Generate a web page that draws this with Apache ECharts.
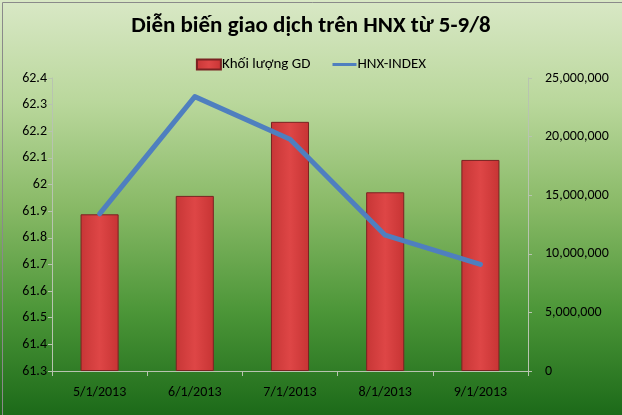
<!DOCTYPE html>
<html>
<head>
<meta charset="utf-8">
<script src="https://cdn.jsdelivr.net/npm/echarts@6/dist/echarts.min.js"></script>
<style>
html,body{margin:0;padding:0;background:#fff;}
#c{width:622px;height:415px;}
</style>
</head>
<body>
<div id="c"></div>
<script>
const categories = ['5/1/2013','6/1/2013','7/1/2013','8/1/2013','9/1/2013'];
const volumeGD = [13370000, 14940000, 21260000, 15250000, 18010000];
const hnxIndex = [61.89, 62.33, 62.17, 61.81, 61.70];
const leftTicks = {min: 61.3, max: 62.4, interval: 0.1};
const rightTicks = {min: 0, max: 25000000, interval: 5000000};

const chart = echarts.init(document.getElementById('c'));
const font = 'Calibri, Carlito, "Open Sans", "Noto Sans", sans-serif';
chart.setOption({
  animation: false,
  backgroundColor: {
    type: 'linear', x: 0, y: 0, x2: 0, y2: 1,
    colorStops: [
      {offset: 0, color: '#d9e8c6'},
      {offset: 0.25, color: '#b9d79b'},
      {offset: 0.5, color: '#88b966'},
      {offset: 0.75, color: '#4c9638'},
      {offset: 1, color: '#1c6a19'}
    ]
  },
  graphic: [{
    type: 'rect', left: 0, top: 0, z: 100, silent: true,
    shape: {x: 0.5, y: 0.5, width: 621, height: 414},
    style: {fill: 'none', stroke: '#8a8a8a', lineWidth: 1}
  }],
  title: {
    text: 'Diễn biến giao dịch trên HNX từ 5-9/8',
    left: 'center', top: 10,
    textStyle: {fontFamily: font, fontWeight: 'bold', fontSize: 23, color: '#000'}
  },
  legend: {
    top: 52, left: 'center', itemGap: 22,
    itemWidth: 24, itemHeight: 10,
    textStyle: {fontFamily: font, fontSize: 15, color: '#000', padding: [0,0,0,-4]},
    data: [
      {name: 'Khối lượng GD', icon: 'rect'},
      {name: 'HNX-INDEX', icon: 'path://M0,4 L24,4 L24,7 L0,7 Z'}
    ]
  },
  grid: {left: 52, right: 94, top: 78, bottom: 44},
  xAxis: {
    type: 'category', data: categories,
    axisLine: {lineStyle: {color: '#b8c4b0', width: 1}},
    axisTick: {show: true, alignWithLabel: false, length: 5, lineStyle: {color: '#b8c4b0'}},
    axisLabel: {fontFamily: font, fontSize: 14, color: '#000', margin: 14}
  },
  yAxis: [
    {
      type: 'value', position: 'left', min: leftTicks.min, max: leftTicks.max, interval: leftTicks.interval,
      axisLine: {show: true, lineStyle: {color: '#b8c4b0'}},
      axisTick: {show: true, length: 4, lineStyle: {color: '#b8c4b0'}},
      splitLine: {show: false},
      axisLabel: {fontFamily: font, fontSize: 14, color: '#000', margin: 5,
        formatter: v => String(Math.round(v * 10) / 10)}
    },
    {
      type: 'value', position: 'right', min: rightTicks.min, max: rightTicks.max, interval: rightTicks.interval,
      axisLine: {show: true, lineStyle: {color: '#b8c4b0'}},
      axisTick: {show: true, length: 4, lineStyle: {color: '#b8c4b0'}},
      splitLine: {show: false},
      axisLabel: {fontFamily: font, fontSize: 14, color: '#000', margin: 17,
        formatter: v => v.toLocaleString('en-US')}
    }
  ],
  series: [
    {
      name: 'Khối lượng GD', type: 'bar', yAxisIndex: 1, data: volumeGD,
      barWidth: '40%',
      itemStyle: {
        color: {
          type: 'linear', x: 0, y: 0, x2: 1, y2: 0,
          colorStops: [
            {offset: 0, color: '#c73636'},
            {offset: 0.5, color: '#de4646'},
            {offset: 1, color: '#c73434'}
          ]
        },
        borderColor: '#7a2222', borderWidth: 1
      }
    },
    {
      name: 'HNX-INDEX', type: 'line', yAxisIndex: 0, data: hnxIndex,
      symbol: 'none', color: '#4f7fbf',
      lineStyle: {color: '#4f7fbf', width: 5, cap: 'round', join: 'round'}
    }
  ]
});
</script>
</body>
</html>
